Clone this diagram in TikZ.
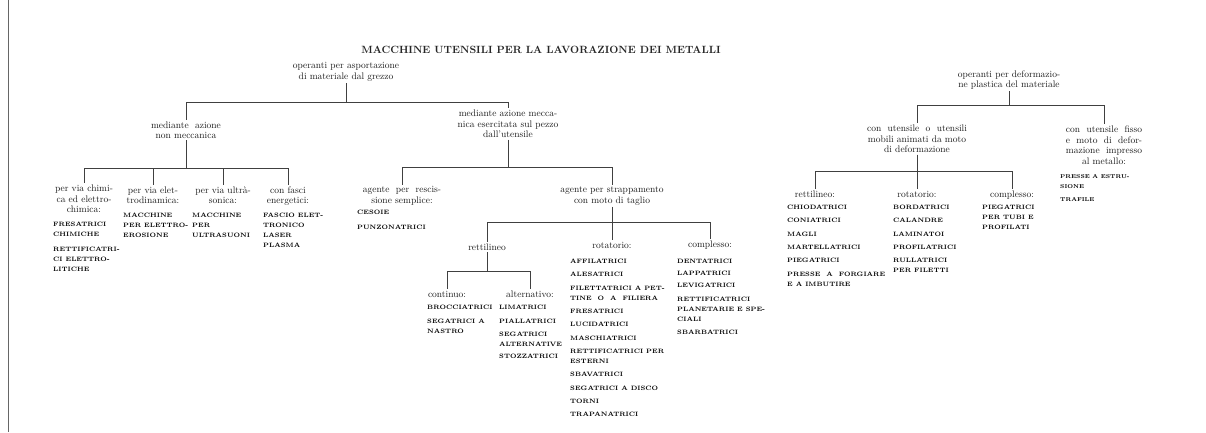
\documentclass[tikz,border=0pt]{standalone}
\usepackage{fontspec}
\begin{document}
\begin{tikzpicture}[x=1pt,y=-1pt,
  lbl/.style={font=\fontsize{9.5}{10.5}\selectfont, align=center, inner sep=1.5pt, text=black!90},
  lst/.style={font=\fontsize{6.3}{10}\selectfont\bfseries, align=left, anchor=north west, inner sep=0pt, text=black},
  link/.style={line width=0.8pt, black!75}]
  \useasboundingbox (0,0) rectangle (1206,432);
  \draw[line width=0.8pt, black!60] (8,0) -- (8,432);
  % title
  \node[font=\fontsize{10.5}{12}\selectfont\bfseries, text=black!85] (title) at (541,50) {MACCHINE UTENSILI PER LA LAVORAZIONE DEI METALLI};
  % bar levels
  \coordinate (barA) at (0,102);
  \coordinate (barB) at (0,168);
  \coordinate (barC) at (0,167);
  \coordinate (barD) at (0,222);
  \coordinate (barE) at (0,271);
  \coordinate (barF) at (0,105);
  \coordinate (barG) at (0,171);
  % asportazione
  \node[lbl] (asp) at (346,72) {operanti per asportazione\\di materiale dal grezzo};
  \node[lbl] (nonmec) at (186,130) {mediante\ \ azione\\non meccanica};
  \node[lbl] (mec) at (508,124) {mediante azione mecca-\\nica esercitata sul pezzo\\dall'utensile};
  \draw[link] (asp.south) -- (asp.south |- barA) -| (nonmec.north);
  \draw[link] (asp.south |- barA) -| (mec.north);
  % non meccanica
  \node[lbl] (chim) at (84,199) {per via chimi-\\ca ed elettro-\\chimica:};
  \node[lbl] (elet) at (153,195) {per via elet-\\trodinamica:};
  \node[lbl] (ultra) at (223,195) {per via ultrà-\\sonica:};
  \node[lbl] (fasci) at (288,196) {con fasci\\energetici:};
  \draw[link] (nonmec.south) -- (nonmec.south |- barB) -| (chim.north);
  \draw[link] (nonmec.south |- barB) -| (elet.north);
  \draw[link] (nonmec.south |- barB) -| (ultra.north);
  \draw[link] (nonmec.south |- barB) -| (fasci.north);
  \node[lst] (chimL) at (53,222) {FRESATRICI\\CHIMICHE\\[4.5pt]RETTIFICATRI-\\CI ELETTRO-\\LITICHE};
  \node[lst] (eletL) at (123,213) {MACCHINE\\PER ELETTRO-\\EROSIONE};
  \node[lst] (ultraL) at (192,213) {MACCHINE\\PER\\ULTRASUONI};
  \node[lst] (fasciL) at (263,213) {FASCIO ELET-\\TRONICO\\LASER\\PLASMA};
  % meccanica
  \node[lbl] (resc) at (402,196) {agente\ \ per\ \ rescis-\\sione semplice:};
  \node[lbl] (strap) at (612,196) {agente per strappamento\\con moto di taglio};
  \draw[link] (mec.south) -- (mec.south |- barC) -| (resc.north);
  \draw[link] (mec.south |- barC) -| (strap.north);
  \node[lst] (rescL) at (357,210) {CESOIE\\[4.5pt]PUNZONATRICI};
  \node[lbl] (rett) at (487,247) {rettilineo};
  \node[lbl] (rot) at (612,245) {rotatorio:};
  \node[lbl] (comp) at (710,245) {complesso:};
  \draw[link] (strap.south) -- (strap.south |- barD) -| (rett.north);
  \draw[link] (strap.south |- barD) -| (comp.north);
  \draw[link] (strap.south) -- (rot.north);
  \node[lst] (rotL) at (570,259) {AFFILATRICI\\[3.3pt]ALESATRICI\\[3.3pt]FILETTATRICI A PET-\\TINE\ \ O\ \ A\ \ FILIERA\\[3.3pt]FRESATRICI\\[3.3pt]LUCIDATRICI\\[3.3pt]MASCHIATRICI\\[3.3pt]RETTIFICATRICI PER\\ESTERNI\\[3.3pt]SBAVATRICI\\[3.3pt]SEGATRICI A DISCO\\[3.3pt]TORNI\\[3.3pt]TRAPANATRICI};
  \node[lst] (compL) at (677,259) {DENTATRICI\\[2pt]LAPPATRICI\\[2pt]LEVIGATRICI\\[4pt]{\addfontfeature{LetterSpace=30}RETTIFICATRICI}\\PLANETARIE E SPE-\\CIALI\\[3pt]SBARBATRICI};
  % rettilineo
  \node[lbl] (cont) at (447,294) {continuo:};
  \node[lbl] (alt) at (530,294) {alternativo:};
  \draw[link] (rett.south) -- (rett.south |- barE) -| (cont.north);
  \draw[link] (rett.south |- barE) -| (alt.north);
  \node[lst] (contL) at (427,305) {BROCCIATRICI\\[4pt]SEGATRICI A\\NASTRO};
  \node[lst] (altL) at (499,305) {LIMATRICI\\[4pt]PIALLATRICI\\[3pt]SEGATRICI\\ALTERNATIVE\\[2pt]STOZZATRICI};
  % deformazione
  \node[lbl] (def) at (1009,80) {operanti per deformazio-\\ne plastica del materiale};
  \node[lbl] (mob) at (917,139) {con\ \ utensile\ \ o\ \ utensili\\mobili animati da moto\\di deformazione};
  \node[lbl] (fisso) at (1104,145) {con\ \ utensile\ \ fisso\\e\ \ moto\ \ di\ \ defor-\\mazione\ \ impresso\\al metallo:};
  \draw[link] (def.south) -- (def.south |- barF) -| (mob.north);
  \draw[link] (def.south |- barF) -| (fisso.north);
  \node[lst, font=\fontsize{5.6}{10}\selectfont\bfseries] (fissoL) at (1060,174) {PRESSE A ESTRU-\\SIONE\\[3pt]TRAFILE};
  \node[lbl] (drett) at (815,194) {rettilineo:};
  \node[lbl] (drot) at (917,194) {rotatorio:};
  \node[lbl] (dcomp) at (1012,195) {complesso:};
  \draw[link] (mob.south) -- (mob.south |- barG) -| (drett.north);
  \draw[link] (mob.south |- barG) -| (dcomp.north);
  \draw[link] (mob.south) -- (drot.north);
  \node[lst] (drettL) at (787,205) {CHIODATRICI\\[3.3pt]CONIATRICI\\[3.3pt]MAGLI\\[3.3pt]MARTELLATRICI\\[3.3pt]PIEGATRICI\\[3.3pt]PRESSE\ \ A\ \ FORGIARE\\E A IMBUTIRE};
  \node[lst] (drotL) at (893,205) {BORDATRICI\\[3.3pt]CALANDRE\\[3.3pt]LAMINATOI\\[3.3pt]PROFILATRICI\\[3.3pt]RULLATRICI\\PER FILETTI};
  \node[lst] (dcompL) at (982,205) {PIEGATRICI\\PER TUBI E\\PROFILATI};
\end{tikzpicture}
\end{document}
